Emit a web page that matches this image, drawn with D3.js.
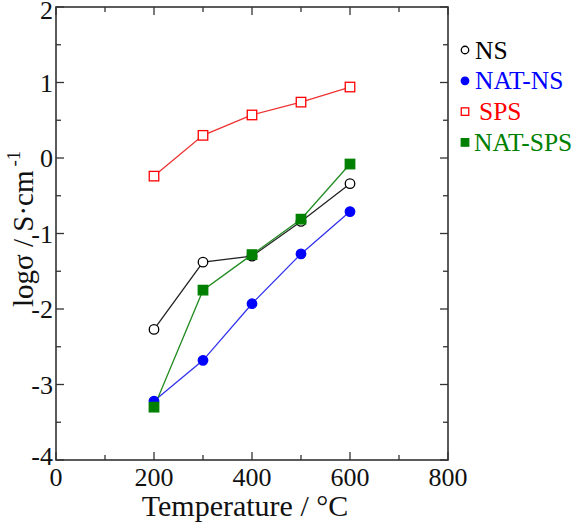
<!DOCTYPE html>
<html><head><meta charset="utf-8">
<script src="https://cdn.jsdelivr.net/npm/d3@7"></script>
<style>body{margin:0;background:#fff}svg{display:block}text{font-family:"Liberation Serif","Times New Roman",serif}</style>
</head><body><svg id="c" width="576" height="524"></svg>
<script>
const temps = [200, 300, 400, 500, 600];
const ns = [-2.27, -1.38, -1.30, -0.84, -0.34];
const natNs = [-3.22, -2.68, -1.93, -1.27, -0.71];
const sps = [-0.24, 0.30, 0.57, 0.74, 0.94];
const natSps = [-3.30, -1.75, -1.28, -0.81, -0.08];
const seriesNames = ["NS", "NAT-NS", "SPS", "NAT-SPS"];
const xTicks = [0, 200, 400, 600, 800];
const yTicks = [-4, -3, -2, -1, 0, 1, 2];

const series = [
  {name: seriesNames[0], vals: ns, color: "#000", line: "#222", shape: "circle", fill: "#fff", tx: 475},
  {name: seriesNames[1], vals: natNs, color: "#0000ff", line: "#3333ee", shape: "circle", fill: "#0000ff", tx: 475},
  {name: seriesNames[2], vals: sps, color: "#ff0000", line: "#ee3333", shape: "square", fill: "#fff", tx: 479},
  {name: seriesNames[3], vals: natSps, color: "#008000", line: "#228b22", shape: "square", fill: "#008000", tx: 474}
];

const svg = d3.select("#c");
const L = 56, R = 448, T = 7, B = 460;
const x = d3.scaleLinear().domain([0, 800]).range([L, R]);
const y = d3.scaleLinear().domain([-4, 2]).range([B, T]);

const g = svg.append("g");
g.append("rect").attr("x", L).attr("y", T).attr("width", R - L).attr("height", B - T)
  .attr("fill", "none").attr("stroke", "#333").attr("stroke-width", 1.6);

const xMinor = d3.range(100, 800, 200);
const yMinor = d3.range(-3.5, 2, 1);
const maj = 8, mn = 5;
xTicks.concat(xMinor).forEach(v => {
  const len = xTicks.includes(v) ? maj : mn;
  g.append("line").attr("x1", x(v)).attr("x2", x(v)).attr("y1", B).attr("y2", B - len).attr("stroke", "#333").attr("stroke-width", 1.3);
  g.append("line").attr("x1", x(v)).attr("x2", x(v)).attr("y1", T).attr("y2", T + len).attr("stroke", "#333").attr("stroke-width", 1.3);
});
yTicks.concat(yMinor).forEach(v => {
  const len = yTicks.includes(v) ? maj : mn;
  g.append("line").attr("y1", y(v)).attr("y2", y(v)).attr("x1", L).attr("x2", L + len).attr("stroke", "#333").attr("stroke-width", 1.3);
  g.append("line").attr("y1", y(v)).attr("y2", y(v)).attr("x1", R).attr("x2", R - len).attr("stroke", "#333").attr("stroke-width", 1.3);
});
xTicks.forEach(v => {
  g.append("text").attr("x", x(v)).attr("y", 486).attr("text-anchor", "middle")
    .attr("font-size", 26).attr("fill", "#111").text(v);
});
yTicks.forEach(v => {
  g.append("text").attr("x", 53).attr("y", Math.max(Math.min(y(v) + 9, 465), 19)).attr("text-anchor", "end")
    .attr("font-size", 26).attr("fill", "#111").text(v);
});
g.append("text").attr("x", 245).attr("y", 516).attr("text-anchor", "middle")
  .attr("font-size", 30).attr("fill", "#111").text("Temperature / °C");
const yl = g.append("text").attr("transform", "translate(33,307) rotate(-90)").attr("text-anchor", "start")
  .attr("font-size", 29).attr("fill", "#111");
yl.append("tspan").text("logσ / S·cm");
yl.append("tspan").attr("dx", 4).attr("dy", -13).attr("font-size", 19).text("-1");

const line = d3.line().x((d, i) => x(temps[i])).y(d => y(d));
function marker(sel, shape, cx, cy, size, fill, color) {
  if (shape === "circle") {
    sel.append("circle").attr("cx", cx).attr("cy", cy).attr("r", size / 2)
      .attr("fill", fill).attr("stroke", color).attr("stroke-width", 1.3);
  } else {
    sel.append("rect").attr("x", cx - size / 2).attr("y", cy - size / 2).attr("width", size).attr("height", size)
      .attr("fill", fill).attr("stroke", color).attr("stroke-width", 1.3);
  }
}
series.forEach(s => {
  g.append("path").attr("d", line(s.vals)).attr("fill", "none").attr("stroke", s.line).attr("stroke-width", 1.3);
});
series.forEach(s => {
  s.vals.forEach((v, i) => marker(g, s.shape, x(temps[i]), y(v), 9.5, s.fill, s.color));
});

const ly0 = 50, ldy = 30.8;
series.forEach((s, i) => {
  const cy = ly0 + i * ldy;
  marker(g, s.shape, 465, cy, 7.5, s.fill, s.color);
  g.append("text").attr("x", s.tx).attr("y", cy + 8.5).attr("font-size", 25.5).attr("fill", s.color).text(s.name);
});
</script></body></html>
